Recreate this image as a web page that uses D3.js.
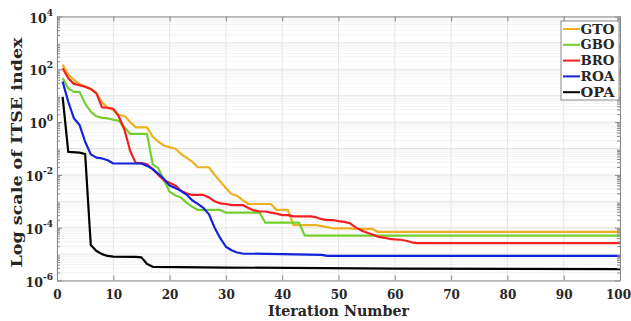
<!DOCTYPE html>
<meta charset="utf-8">
<script src="https://d3js.org/d3.v7.min.js"></script>
<style>
  body { margin: 0; background: #fff; }
  text { font-family: "DejaVu Serif", serif; font-weight: bold; fill: #262626; }
</style>
<div id="chart"></div>
<script>

// series names and colours
const names = ["GTO", "GBO", "BRO", "ROA", "OPA"]
const colors = ["#EDB120", "#72CF2E", "#F22020", "#1422DC", "#000000"]

// [iteration, value]
const gto = [[1,150],[2,63],[3,40],[4,28],[5,22],[6,18],[7,12.6],[8,5.6],[9,3.5],[10,2.9],[11,1.86],[12,1.7],[13,1.0],[14,0.63],[16,0.63],[17,0.28],[18,0.18],[19,0.13],[20,0.11],[21,0.1],[22,0.063],[23,0.045],[24,0.032],[25,0.0195],[27,0.0195],[28,0.01],[29,0.0056],[30,0.0032],[31,0.0019],[32,0.0016],[33,0.0011],[34,7.9e-4],[38,7.9e-4],[39,4.7e-4],[41,4.7e-4],[42,1.26e-4],[46,1.26e-4],[47,1.15e-4],[48,1.05e-4],[49,9.5e-5],[52,9.5e-5],[53,9.1e-5],[56,9.1e-5],[57,6.9e-5],[100,6.9e-5]]
const gbo = [[1,46],[2,19],[3,14],[4,14],[5,5],[6,2.5],[7,1.66],[8,1.45],[9,1.38],[10,1.23],[11,1.12],[12,0.63],[13,0.355],[16,0.355],[17,0.025],[18,0.018],[19,0.0063],[20,0.0023],[21,0.0017],[22,0.0014],[23,8.9e-4],[24,6.3e-4],[25,4.7e-4],[29,4.7e-4],[30,3.7e-4],[36,3.7e-4],[37,1.55e-4],[43,1.55e-4],[44,5e-5],[100,5e-5]]
const bro = [[1,110],[2,46],[3,28],[4,25],[5,22],[6,18],[7,12.3],[8,3.6],[9,3.5],[10,3.2],[11,1.6],[12,0.5],[13,0.08],[14,0.028],[15,0.028],[16,0.025],[17,0.0166],[18,0.01],[19,0.0063],[20,0.005],[21,0.004],[22,0.0025],[23,0.002],[24,0.00174],[26,0.00174],[27,0.0014],[28,0.001],[29,8.3e-4],[30,7.9e-4],[31,7.2e-4],[33,7.2e-4],[34,5.6e-4],[35,4.5e-4],[36,4.1e-4],[37,4.1e-4],[38,3.7e-4],[39,3.4e-4],[40,3.0e-4],[41,3.0e-4],[42,2.7e-4],[45,2.7e-4],[46,2.5e-4],[47,2.1e-4],[48,1.95e-4],[49,1.95e-4],[50,1.78e-4],[51,1.66e-4],[52,1.5e-4],[53,1.05e-4],[54,7.9e-5],[55,6.6e-5],[56,5.5e-5],[57,4.6e-5],[58,4.2e-5],[59,3.8e-5],[60,3.6e-5],[61,3.5e-5],[62,3.2e-5],[63,2.8e-5],[64,2.6e-5],[100,2.6e-5]]
const roa = [[1,34],[2,5.9],[3,1.4],[4,0.78],[5,0.18],[6,0.06],[7,0.045],[8,0.042],[9,0.036],[10,0.027],[15,0.027],[16,0.022],[17,0.0166],[18,0.011],[19,0.007],[20,0.004],[21,0.0032],[22,0.0025],[23,0.0018],[24,0.0011],[25,8e-4],[26,5.6e-4],[27,3.2e-4],[28,1e-4],[29,4e-5],[30,1.9e-5],[31,1.4e-5],[32,1.15e-5],[33,1.05e-5],[40,1.0e-5],[47,9.3e-6],[48,8.6e-6],[100,8.6e-6]]
const opa = [[1,9],[2,0.075],[4,0.07],[5,0.062],[6,2.2e-5],[7,1.3e-5],[8,1.0e-5],[9,8.5e-6],[10,8e-6],[14,7.8e-6],[15,7.5e-6],[16,4.2e-6],[17,3.3e-6],[30,3.1e-6],[60,2.8e-6],[100,2.7e-6]]
const allSeries = [gto, gbo, bro, roa, opa]

// tick values
const xTicks = [0, 10, 20, 30, 40, 50, 60, 70, 80, 90, 100]
const yExp = [-6, -4, -2, 0, 2, 4]

const width = 631, height = 321
const margin = {top: 16.5, right: 11, bottom: 40.5, left: 57}

const svg = d3.select("#chart").append("svg")
    .attr("width", width)
    .attr("height", height)

const x = d3.scaleLinear().domain([0, 100]).range([margin.left, width - margin.right])
const y = d3.scaleLog().domain([1e-6, 1e4]).range([height - margin.bottom, margin.top])

// minor values for the log axis
const yMinor = []
for (let e = -6; e < 4; e++) for (let m = 2; m <= 9; m++) yMinor.push(m * Math.pow(10, e))
const yMajor = d3.range(-6, 5).map(e => Math.pow(10, e))

// grid
const grid = svg.append("g")
grid.selectAll(".gmin").data(yMinor).join("line")
    .attr("x1", x(0)).attr("x2", x(100))
    .attr("y1", d => y(d)).attr("y2", d => y(d))
    .attr("stroke", "#f4f4f4").attr("stroke-width", 1)
grid.selectAll(".gmaj").data(yMajor).join("line")
    .attr("x1", x(0)).attr("x2", x(100))
    .attr("y1", d => y(d)).attr("y2", d => y(d))
    .attr("stroke", "#e4e4e4").attr("stroke-width", 1)
grid.selectAll(".gx").data(xTicks).join("line")
    .attr("x1", d => x(d)).attr("x2", d => x(d))
    .attr("y1", y(1e-6)).attr("y2", y(1e4))
    .attr("stroke", "#e6e6e6").attr("stroke-width", 1)

// lines
const line = d3.line()
    .x(d => x(d[0]))
    .y(d => y(d[1]))

svg.append("g").selectAll("path")
    .data(allSeries)
    .join("path")
    .attr("d", line)
    .attr("fill", "none")
    .attr("stroke", (d, i) => colors[i])
    .attr("stroke-width", 2.2)
    .attr("stroke-linejoin", "round")

// axes (ticks pointing in, like matlab)
const axisColor = "#8a8a8a"
function styleAxis(g) {
  g.select(".domain").attr("stroke", axisColor)
  g.selectAll(".tick line").attr("stroke", axisColor)
}

svg.append("g")
    .attr("transform", `translate(0,${y(1e-6)})`)
    .call(d3.axisBottom(x).tickValues(xTicks).tickSize(-5).tickSizeOuter(0).tickPadding(10))
    .call(styleAxis)
    .call(g => g.selectAll("text").attr("font-size", 12).attr("fill", "#262626")
      .attr("dx", d => d === 100 ? -2 : 0))

svg.append("g")
    .attr("transform", `translate(0,${y(1e4)})`)
    .call(d3.axisTop(x).tickValues(xTicks).tickSize(-5).tickSizeOuter(0).tickFormat(""))
    .call(styleAxis)

const yl = svg.append("g")
    .attr("transform", `translate(${x(0)},0)`)
    .call(d3.axisLeft(y).tickValues(yExp.map(e => Math.pow(10, e))).tickSize(-5).tickSizeOuter(0).tickFormat(""))
    .call(styleAxis)
yl.append("g").call(d3.axisLeft(y).tickValues(yMinor).tickSize(-3).tickFormat(""))
    .call(styleAxis)
    .call(g => g.select(".domain").remove())

const yr = svg.append("g")
    .attr("transform", `translate(${x(100)},0)`)
    .call(d3.axisRight(y).tickValues(yExp.map(e => Math.pow(10, e))).tickSize(-5).tickSizeOuter(0).tickFormat(""))
    .call(styleAxis)
yr.append("g").call(d3.axisRight(y).tickValues(yMinor).tickSize(-3).tickFormat(""))
    .call(styleAxis)
    .call(g => g.select(".domain").remove())

// y tick labels with superscripts
const ylab = svg.append("g").selectAll("text")
    .data(yExp)
    .join("text")
    .attr("x", x(0) - 4)
    .attr("y", d => y(Math.pow(10, d)) + 6)
    .attr("text-anchor", "end")
    .attr("font-size", 12.5)
ylab.append("tspan").text("10")
ylab.append("tspan")
    .attr("dy", -7)
    .attr("font-size", 9)
    .text(d => d)

// axis titles
svg.append("text")
    .attr("x", (x(0) + x(100)) / 2)
    .attr("y", 316)
    .attr("text-anchor", "middle")
    .attr("font-size", 14)
    .attr("textLength", 141)
    .attr("lengthAdjust", "spacingAndGlyphs")
    .text("Iteration Number")

svg.append("text")
    .attr("transform", `translate(22,${(y(1e-6) + y(1e4)) / 2 + 4}) rotate(-90)`)
    .attr("text-anchor", "middle")
    .attr("font-size", 15)
    .attr("textLength", 230)
    .attr("lengthAdjust", "spacingAndGlyphs")
    .text("Log scale of ITSE index")

// legend
const leg = svg.append("g").attr("transform", "translate(561,21)")
leg.append("rect")
    .attr("width", 58).attr("height", 79)
    .attr("fill", "#fff").attr("stroke", "#8a8a8a")
const item = leg.selectAll(".item")
    .data(names)
    .join("g")
    .attr("transform", (d, i) => `translate(0,${8 + i * 15.8})`)
item.append("line")
    .attr("x1", 2).attr("x2", 19)
    .attr("stroke", (d, i) => colors[i])
    .attr("stroke-width", 2)
item.append("text")
    .attr("x", 19.5)
    .attr("y", 4.5)
    .attr("font-size", 13)
    .attr("textLength", 34)
    .attr("lengthAdjust", "spacingAndGlyphs")
    .text(d => d)

</script>
